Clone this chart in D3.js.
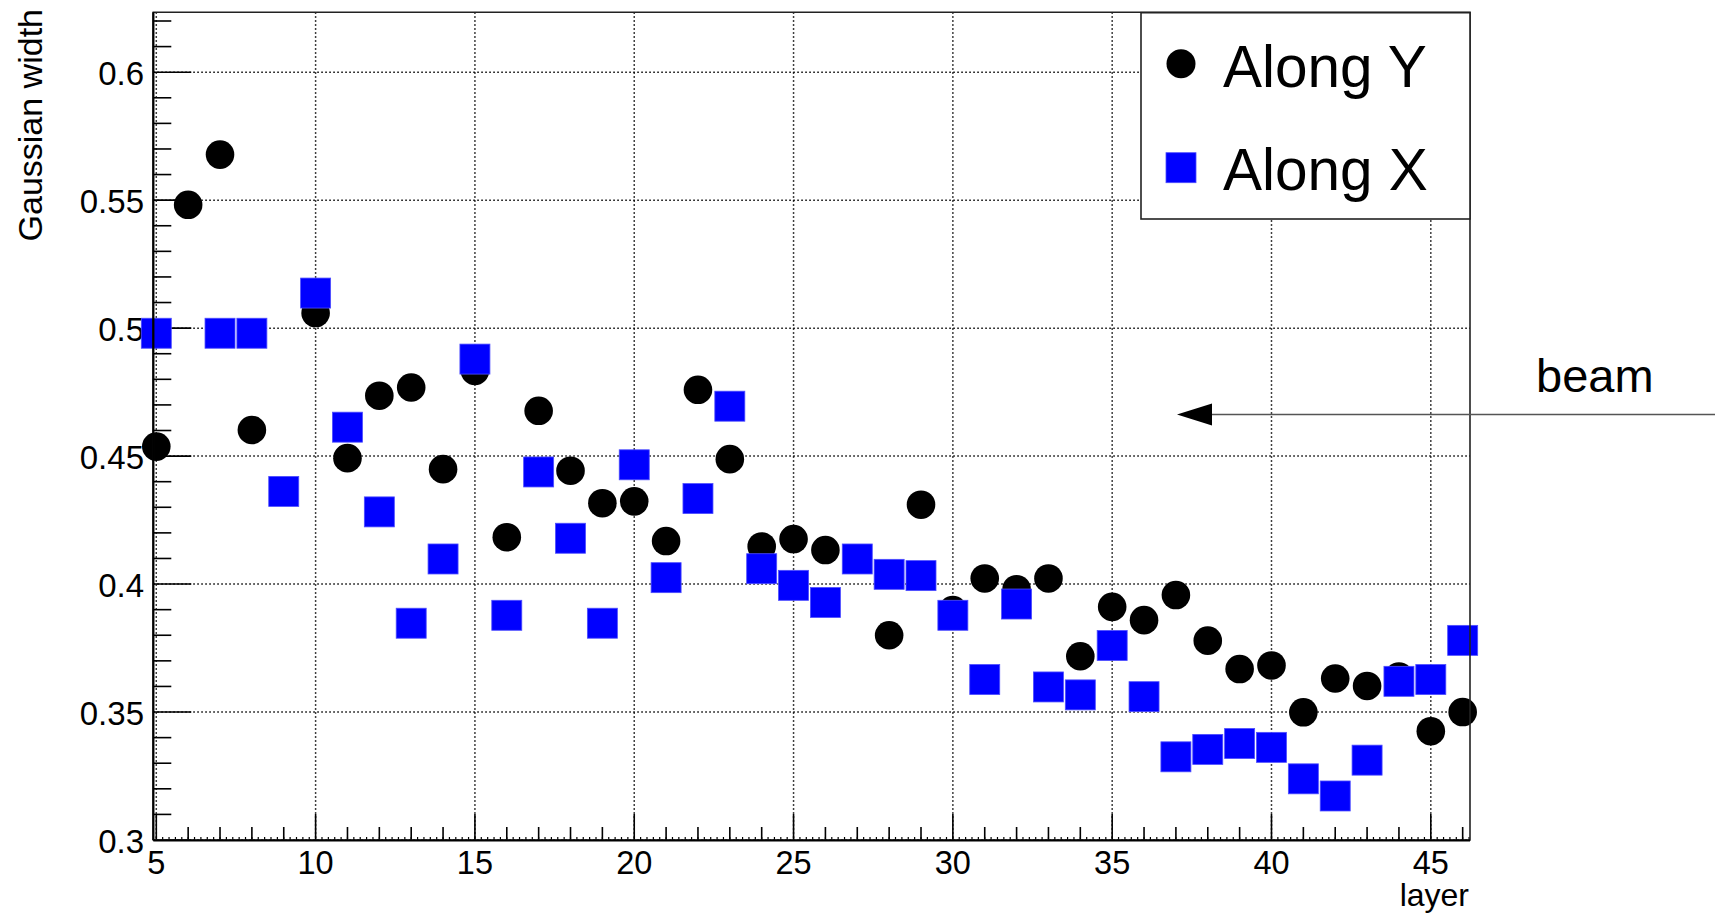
<!DOCTYPE html>
<html>
<head>
<meta charset="utf-8">
<script src="https://cdn.jsdelivr.net/npm/d3@7"></script>
<style>
  body { margin: 0; background: #fff; }
  text { font-family: "Liberation Sans", Arial, sans-serif; fill: #000; }
</style>
</head>
<body>
<div id="chart"></div>
<script>
const layers = [5, 6, 7, 8, 9, 10, 11, 12, 13, 14, 15, 16, 17, 18, 19, 20, 21, 22, 23, 24, 25,
  26, 27, 28, 29, 30, 31, 32, 33, 34, 35, 36, 37, 38, 39, 40, 41, 42, 43, 44, 45, 46];

// width along Y (black circles)
const alongY = [0.4537, 0.5482, 0.5678, 0.4602, null, 0.5059, 0.4492, 0.4736, 0.4768, 0.4449,
  0.4833, 0.4183, 0.4677, 0.4443, 0.4316, 0.4323, 0.4168, 0.4759, 0.4488, 0.4147, 0.4176,
  0.4133, null, 0.3800, 0.4310, 0.3898, 0.4022, 0.3980, 0.4022, 0.3718, 0.3911, 0.3859,
  0.3957, 0.3779, 0.3668, 0.3682, 0.3499, 0.3631, 0.3602, 0.3639, 0.3425, 0.3500];

// width along X (blue squares)
const alongX = [0.4980, null, 0.4980, 0.4980, 0.4362, 0.5137, 0.4613, 0.4282, 0.3847, 0.4098,
  0.4879, 0.3878, 0.4438, 0.4179, 0.3847, 0.4466, 0.4025, 0.4334, 0.4695, 0.4060, 0.3995,
  0.3928, 0.4098, 0.4038, 0.4033, 0.3878, 0.3627, 0.3922, 0.3598, 0.3567, 0.3760, 0.3560,
  0.3325, 0.3354, 0.3377, 0.3362, 0.3239, 0.3172, 0.3312, 0.3620, 0.3627, 0.3780];

const xTicks = [5, 10, 15, 20, 25, 30, 35, 40, 45];
const yTicks = [0.3, 0.35, 0.4, 0.45, 0.5, 0.55, 0.6];
const yTickLabels = ["0.3", "0.35", "0.4", "0.45", "0.5", "0.55", "0.6"];
const legendLabels = ["Along Y", "Along X"];

const W = 1715, H = 915;
const frame = { left: 153.3, right: 1470, top: 12.3, bottom: 840 };

const svg = d3.select("#chart")
  .append("svg")
  .attr("width", W)
  .attr("height", H);

svg.append("rect").attr("width", W).attr("height", H).attr("fill", "#fff");

const x = d3.scaleLinear().domain([4.906, 46.23]).range([frame.left, frame.right]);
const y = d3.scaleLinear().domain([0.3, 0.6234]).range([frame.bottom, frame.top]);

// grid
svg.append("g")
  .selectAll("line")
  .data(xTicks)
  .enter()
  .append("line")
  .attr("x1", d => x(d)).attr("x2", d => x(d))
  .attr("y1", frame.top).attr("y2", frame.bottom)
  .attr("stroke", "#000").attr("stroke-width", 1.5)
  .attr("stroke-dasharray", "1.5,2.5");

svg.append("g")
  .selectAll("line")
  .data(yTicks)
  .enter()
  .append("line")
  .attr("x1", frame.left).attr("x2", frame.right)
  .attr("y1", d => y(d)).attr("y2", d => y(d))
  .attr("stroke", "#000").attr("stroke-width", 1.5)
  .attr("stroke-dasharray", "1.5,2.5");

// x axis ticks
const xAxis = svg.append("g").attr("stroke", "#000");
xAxis.selectAll(".tert")
  .data(d3.range(5, 46.21, 0.2))
  .enter()
  .append("line")
  .attr("x1", d => x(d)).attr("x2", d => x(d))
  .attr("y1", frame.bottom).attr("y2", frame.bottom - 3)
  .attr("stroke-width", 1.2);
xAxis.selectAll(".minor")
  .data(d3.range(5, 47, 1))
  .enter()
  .append("line")
  .attr("x1", d => x(d)).attr("x2", d => x(d))
  .attr("y1", frame.bottom).attr("y2", d => frame.bottom - (d % 5 === 0 ? 26 : 13))
  .attr("stroke-width", 1.6);

svg.append("g")
  .selectAll("text")
  .data(xTicks)
  .enter()
  .append("text")
  .attr("x", d => x(d))
  .attr("y", 873.5)
  .attr("text-anchor", "middle")
  .style("font-size", "32.5px")
  .text(d => d);

// y axis ticks
const yAxis = svg.append("g").attr("stroke", "#000");
yAxis.selectAll(".minor")
  .data(d3.range(30, 63, 1))
  .enter()
  .append("line")
  .attr("x1", frame.left)
  .attr("x2", d => frame.left + (d % 5 === 0 ? 38 : 18))
  .attr("y1", d => y(d / 100)).attr("y2", d => y(d / 100))
  .attr("stroke-width", 1.6);

svg.append("g")
  .selectAll("text")
  .data(yTicks)
  .enter()
  .append("text")
  .attr("x", 144)
  .attr("y", d => y(d) + 12.5)
  .attr("text-anchor", "end")
  .style("font-size", "33px")
  .text((d, i) => yTickLabels[i]);

// axis titles
svg.append("text")
  .attr("transform", "rotate(-90)")
  .attr("x", -9)
  .attr("y", 41.5)
  .attr("text-anchor", "end")
  .style("font-size", "34px")
  .text("Gaussian width");

svg.append("text")
  .attr("x", frame.right - 1)
  .attr("y", 906)
  .attr("text-anchor", "end")
  .style("font-size", "32px")
  .text("layer");

// points
const ptsY = layers.map((l, i) => ({ layer: l, v: alongY[i] })).filter(d => d.v !== null);
const ptsX = layers.map((l, i) => ({ layer: l, v: alongX[i] })).filter(d => d.v !== null);

svg.append("g")
  .selectAll("circle")
  .data(ptsY)
  .enter()
  .append("circle")
  .attr("cx", d => x(d.layer))
  .attr("cy", d => y(d.v))
  .attr("r", 14.3)
  .attr("fill", "#000");

svg.append("g")
  .selectAll("rect")
  .data(ptsX)
  .enter()
  .append("rect")
  .attr("x", d => x(d.layer) - 15)
  .attr("y", d => y(d.v) - 15)
  .attr("width", 30)
  .attr("height", 30)
  .attr("fill", "#0000ff")
  .attr("stroke", "#4d4dff")
  .attr("stroke-width", 0.8);

// frame
svg.append("path")
  .attr("d", `M${frame.left},${frame.top}H${frame.right}V${frame.bottom}H${frame.left}Z`)
  .attr("fill", "none")
  .attr("stroke", "#222")
  .attr("stroke-width", 1.6);
svg.append("line")
  .attr("x1", frame.left).attr("x2", frame.right)
  .attr("y1", frame.bottom + 0.5).attr("y2", frame.bottom + 0.5)
  .attr("stroke", "#000").attr("stroke-width", 2.2);
svg.append("line")
  .attr("x1", frame.left).attr("x2", frame.left)
  .attr("y1", frame.top).attr("y2", frame.bottom)
  .attr("stroke", "#000").attr("stroke-width", 2.2);

// legend
const legend = svg.append("g");
legend.append("rect")
  .attr("x", 1141).attr("y", 12.7)
  .attr("width", 1470 - 1141).attr("height", 219 - 12.7)
  .attr("fill", "#fff")
  .attr("stroke", "#222")
  .attr("stroke-width", 1.6);

legend.append("circle")
  .attr("cx", 1181).attr("cy", 63.8).attr("r", 14.5)
  .attr("fill", "#000");
legend.append("rect")
  .attr("x", 1166).attr("y", 152.7).attr("width", 30).attr("height", 30)
  .attr("fill", "#0000ff").attr("stroke", "#4d4dff").attr("stroke-width", 0.8);

legend.selectAll("text")
  .data(legendLabels)
  .enter()
  .append("text")
  .attr("x", 1223)
  .attr("y", (d, i) => i === 0 ? 86.7 : 190)
  .style("font-size", "58.5px")
  .text(d => d);

// beam arrow
svg.append("line")
  .attr("x1", 1205).attr("x2", W)
  .attr("y1", 414.5).attr("y2", 414.5)
  .attr("stroke", "#555")
  .attr("stroke-width", 1.6);
svg.append("path")
  .attr("d", d3.line()([[1177, 414.5], [1212, 403.5], [1212, 425.5]]) + "Z")
  .attr("fill", "#000");

svg.append("text")
  .attr("x", 1536)
  .attr("y", 391.7)
  .style("font-size", "47px")
  .text("beam");
</script>
</body>
</html>
